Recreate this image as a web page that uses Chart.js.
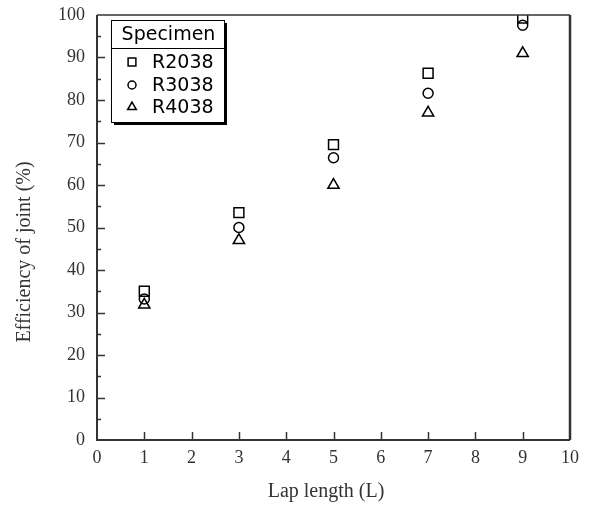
<!DOCTYPE html>
<html>
<head>
<meta charset="utf-8">
<script src="https://cdn.jsdelivr.net/npm/chart.js@4/dist/chart.umd.min.js"></script>
<style>
  html, body { margin: 0; padding: 0; background: #fff; }
  #wrap { width: 592px; height: 506px; position: relative; }
</style>
</head>
<body>
<div id="wrap"><canvas id="chart"></canvas></div>
<script>
// ===== DATA =====
const lapLength = [1, 3, 5, 7, 9];
const seriesNames = ['R2038', 'R3038', 'R4038'];
const r2038 = [35.0, 53.5, 69.5, 86.3, 99.3];
const r3038 = [33.2, 50.0, 66.4, 81.6, 97.6];
const r4038 = [31.8, 47.0, 60.0, 77.0, 91.0];
const legendTitle = 'Specimen';
const xTitle = 'Lap length (L)';
const yTitle = 'Efficiency of joint (%)';

const pointStyles = ['rect', 'circle', 'triangle'];
const pointSizes = [7, 5, 6.5];

function toPoints(values) {
    return values.map((v, i) => ({ x: lapLength[i], y: v }));
}

const datasets = [r2038, r3038, r4038].map((vals, i) => ({
    label: seriesNames[i],
    data: toPoints(vals),
    pointStyle: pointStyles[i],
    pointRadius: pointSizes[i],
    pointHoverRadius: pointSizes[i],
    borderColor: '#000',
    backgroundColor: 'transparent',
    borderWidth: 1.5,
    showLine: false
}));

const INK = '#333';

// ===== FRAME, INWARD TICKS, TITLES AND LEGEND =====
const framePlugin = {
    id: 'frame',
    afterDatasetsDraw(chart) {
        const { ctx, chartArea: a, scales } = chart;
        ctx.save();
        ctx.strokeStyle = INK;

        // inward ticks on x
        ctx.lineWidth = 1.5;
        for (let v = 1; v < 10; v++) {
            const px = Math.round(scales.x.getPixelForValue(v)) + 0.5;
            ctx.beginPath();
            ctx.moveTo(px, a.bottom);
            ctx.lineTo(px, a.bottom - 8);
            ctx.stroke();
        }
        // inward ticks on y (major every 10, minor every 5)
        for (let v = 5; v < 100; v += 5) {
            const py = Math.round(scales.y.getPixelForValue(v)) + 0.5;
            const len = v % 10 === 0 ? 8 : 4;
            ctx.beginPath();
            ctx.moveTo(a.left, py);
            ctx.lineTo(a.left + len, py);
            ctx.stroke();
        }

        // frame
        ctx.lineWidth = 1.5;
        ctx.beginPath();
        ctx.moveTo(a.left, a.top);
        ctx.lineTo(a.right, a.top);
        ctx.stroke();
        ctx.lineWidth = 2.5;
        ctx.beginPath();
        ctx.moveTo(a.right, a.top);
        ctx.lineTo(a.right, a.bottom);
        ctx.stroke();
        ctx.lineWidth = 2;
        ctx.beginPath();
        ctx.moveTo(a.left, a.top);
        ctx.lineTo(a.left, a.bottom);
        ctx.lineTo(a.right, a.bottom);
        ctx.stroke();

        // axis titles
        ctx.fillStyle = INK;
        ctx.font = '20px "Liberation Serif"';
        ctx.textAlign = 'center';
        ctx.textBaseline = 'middle';
        ctx.fillText(xTitle, 326, 492);
        ctx.save();
        ctx.translate(25, 252);
        ctx.rotate(-Math.PI / 2);
        ctx.fillText(yTitle, 0, 0);
        ctx.restore();

        // legend box with shadow
        const bx = 111, by = 20, bw = 113, bh = 102;
        ctx.fillStyle = '#000';
        ctx.fillRect(bx + 3, by + 3, bw, bh);
        ctx.fillStyle = '#fff';
        ctx.fillRect(bx, by, bw, bh);
        ctx.strokeStyle = '#000';
        ctx.lineWidth = 1;
        ctx.strokeRect(bx + 0.5, by + 0.5, bw, bh);
        ctx.beginPath();
        ctx.moveTo(bx, by + 28.5);
        ctx.lineTo(bx + bw, by + 28.5);
        ctx.stroke();

        ctx.fillStyle = '#000';
        ctx.font = '19px "DejaVu Sans"';
        ctx.textBaseline = 'middle';
        ctx.textAlign = 'center';
        ctx.fillText(legendTitle, bx + bw / 2 + 1, by + 15);

        ctx.textAlign = 'left';
        const rowY = [62, 85, 107];
        chart.data.datasets.forEach((ds, i) => {
            ctx.fillStyle = 'rgba(0,0,0,0)';
            ctx.strokeStyle = '#000';
            ctx.lineWidth = 1.5;
            Chart.helpers.drawPoint(ctx, {
                pointStyle: ds.pointStyle,
                radius: i === 0 ? 5.5 : (i === 1 ? 4 : 5),
                borderWidth: 1.5,
                rotation: 0
            }, 132, rowY[i]);
            ctx.fillStyle = '#000';
            ctx.fillText(ds.label, 152, rowY[i] + 1);
        });
        ctx.restore();
    }
};

// ===== CHART =====
new Chart(document.getElementById('chart'), {
    type: 'scatter',
    data: { datasets },
    plugins: [framePlugin],
    options: {
        responsive: true,
        maintainAspectRatio: false,
        animation: false,
        layout: { padding: { left: 0, right: 22, top: 15, bottom: 0 } },
        plugins: {
            legend: { display: false },
            tooltip: { enabled: false }
        },
        scales: {
            x: {
                type: 'linear',
                min: 0,
                max: 10,
                afterFit: (s) => { s.height = 66; s.paddingLeft = 0; s.paddingRight = 0; },
                ticks: {
                    stepSize: 1,
                    color: INK,
                    padding: 7,
                    font: { family: '"Liberation Serif"', size: 18 }
                },
                grid: { display: false, drawTicks: false },
                border: { display: false },
                title: { display: false }
            },
            y: {
                type: 'linear',
                min: 0,
                max: 100,
                afterFit: (s) => { s.width = 97; s.paddingTop = 0; s.paddingBottom = 0; },
                ticks: {
                    stepSize: 10,
                    color: INK,
                    padding: 12,
                    font: { family: '"Liberation Serif"', size: 18 }
                },
                grid: { display: false, drawTicks: false },
                border: { display: false },
                title: { display: false }
            }
        }
    }
});
</script>
</body>
</html>
